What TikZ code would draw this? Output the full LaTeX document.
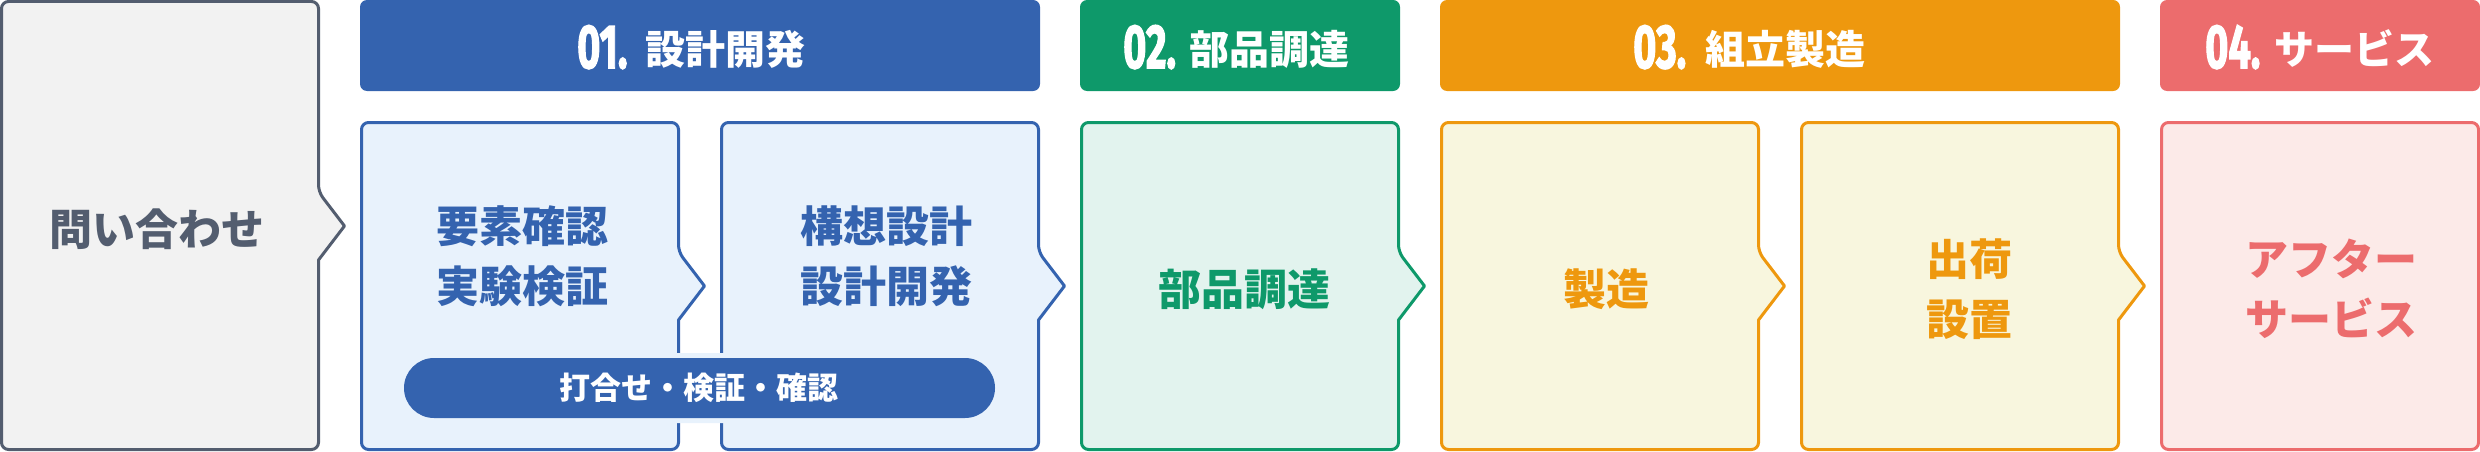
\documentclass[tikz,border=0pt]{standalone}
\usepackage{fontspec}
\usepackage{graphicx}
\newfontfamily\jp{Noto Sans CJK JP}
\newfontfamily\numfont{Fira Sans}[BoldFeatures={FakeBold=2.5}]
\definecolor{gline}{HTML}{535D6F}
\definecolor{gfill}{HTML}{F2F2F2}
\definecolor{bmain}{HTML}{3463AF}
\definecolor{bfill}{HTML}{E8F2FC}
\definecolor{gmain}{HTML}{0E996A}
\definecolor{gnfill}{HTML}{E2F3EE}
\definecolor{omain}{HTML}{EE980E}
\definecolor{ofill}{HTML}{F8F6DE}
\definecolor{pmain}{HTML}{EC6C6D}
\definecolor{pfill}{HTML}{FCEAE8}
% #1 x0, #2 top y, #3 bottom y, #4 mid y, #5 line colour, #6 fill colour
\newcommand\chevbox[6]{%
  \pgfmathsetmacro\xa{#1+1.5}\pgfmathsetmacro\xb{#1+318.5}\pgfmathsetmacro\xt{#1+344.5}%
  \pgfmathsetmacro\ya{#4-34}\pgfmathsetmacro\yb{#4+34}%
  \draw[boxline, draw=#5, fill=#6, rounded corners=7] (\xa,#2) -- (\xb,#2) -- (\xb,\ya) [sharp corners] -- (\xt,#4) -- (\xb,\yb) [rounded corners=7] -- (\xb,#3) -- (\xa,#3) -- cycle;}
\newcommand\headtxt[3]{\scalebox{0.64}[1]{\numfont\bfseries\fontsize{62}{62}\selectfont #1}\hspace{#3pt}\raisebox{4pt}{\jp\bfseries\fontsize{40}{40}\selectfont #2}}
\tikzset{
  boxline/.style={line width=3pt, line join=round},
  headbox/.style={rounded corners=7},
  boxtext/.style={font=\jp\bfseries\fontsize{43}{60}\selectfont, align=center, inner sep=0pt},
  headlabel/.style={text=white, inner sep=0pt, anchor=base west},
  pilltext/.style={font=\jp\bfseries\fontsize{31}{31}\selectfont, text=white, inner sep=0pt}
}
\begin{document}
\begin{tikzpicture}[x=1pt, y=-1pt]
\useasboundingbox (0,0) rectangle (2480,452);
% header bars
\fill[bmain, headbox] (360,0) rectangle (1040,91);
\fill[gmain, headbox] (1080,0) rectangle (1400,91);
\fill[omain, headbox] (1440,0) rectangle (2120,91);
\fill[pmain, headbox] (2160,0) rectangle (2480,91);
\node[headlabel] (h1) at (577,68) {\headtxt{01.}{設計開発}{18}};
\node[headlabel] (h2) at (1123,68) {\headtxt{02.}{部品調達}{13}};
\node[headlabel] (h3) at (1633,68) {\headtxt{03.}{組立製造}{19}};
\node[headlabel] (h4) at (2205,68) {\headtxt{04.}{サービス}{14}};
% boxes
\chevbox{0}{1.5}{449.5}{226}{gline}{gfill}
\chevbox{360}{122.5}{449.5}{286}{bmain}{bfill}
\chevbox{720}{122.5}{449.5}{286}{bmain}{bfill}
\chevbox{1080}{122.5}{449.5}{286}{gmain}{gnfill}
\chevbox{1440}{122.5}{449.5}{286}{omain}{ofill}
\chevbox{1800}{122.5}{449.5}{286}{omain}{ofill}
\draw[boxline, draw=pmain, fill=pfill, rounded corners=7] (2161.5,122.5) rectangle (2478.5,449.5);
% pill
\fill[bfill, rounded corners=35] (399,353) rectangle (1000,423);
\fill[bmain, rounded corners=30] (404,358) rectangle (995,418);
\node[pilltext] (pill) at (699,388) {打合せ・検証・確認};
% box texts
\node[boxtext, text=gline] (t0) at (157,229) {問い合わせ};
\node[boxtext, text=bmain] (t1) at (522,256) {要素確認\\実験検証};
\node[boxtext, text=bmain] (t2) at (886,256) {構想設計\\設計開発};
\node[boxtext, text=gmain] (t3) at (1244,289) {部品調達};
\node[boxtext, text=omain] (t4) at (1606,289) {製造};
\node[boxtext, text=omain] (t5) at (1969,289) {出荷\\設置};
\node[boxtext, text=pmain] (t6) at (2331,289) {アフター\\サービス};
\end{tikzpicture}
\end{document}
